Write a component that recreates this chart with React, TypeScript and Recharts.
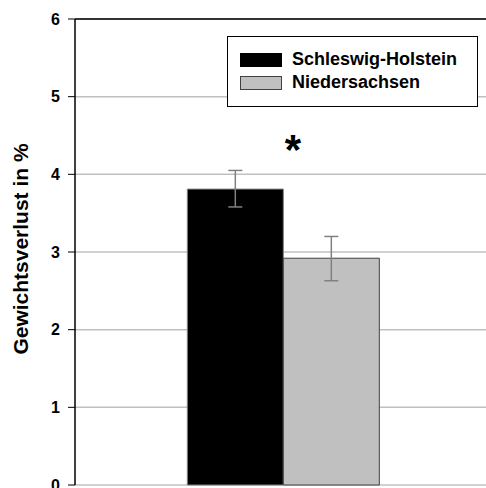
import {
  BarChart,
  Bar,
  XAxis,
  YAxis,
  CartesianGrid,
  ErrorBar,
  Legend,
  ReferenceLine,
  ReferenceDot,
} from 'recharts'

const categories = ['Gewichtsverlust']
const regions = ['Schleswig-Holstein', 'Niedersachsen']
const means = [3.81, 2.92]
const errLow = [0.23, 0.29]
const errHigh = [0.24, 0.28]
const yTicks = [0, 1, 2, 3, 4, 5, 6]

const COLORS = ['#000000', '#c0c0c0']
const BORDERS = ['#808080', '#404040']
const FONT = '"Liberation Sans", Arial, sans-serif'

const data = categories.map((name) => ({
  name,
  sh: means[0],
  ni: means[1],
  shErr: [errLow[0], errHigh[0]],
  niErr: [errLow[1], errHigh[1]],
}))

function LegendBox() {
  return (
    <div
      style={{
        width: 251,
        height: 71,
        boxSizing: 'border-box',
        border: '1px solid #000',
        background: '#fff',
        paddingTop: 11,
        fontFamily: FONT,
        fontWeight: 'bold',
        fontSize: 18,
        color: '#000',
      }}
    >
      {regions.map((r, i) => (
        <div key={r} style={{ display: 'flex', alignItems: 'center', height: 23 }}>
          <div
            style={{
              marginLeft: 12,
              width: 42,
              height: 14,
              boxSizing: 'border-box',
              background: COLORS[i],
              border: `1px solid ${i === 0 ? '#000' : '#404040'}`,
            }}
          />
          <span style={{ marginLeft: 10, lineHeight: '23px' }}>{r}</span>
        </div>
      ))}
    </div>
  )
}

function YLabel() {
  return (
    <text
      x={28}
      y={249}
      transform="rotate(-90 28 249)"
      textAnchor="middle"
      fontFamily={FONT}
      fontWeight="bold"
      fontSize={21}
      fill="#000"
    >
      Gewichtsverlust in %
    </text>
  )
}

export default function App() {
  return (
    <div style={{ position: 'absolute', left: 0, top: 0, width: 486, height: 488, overflow: 'hidden' }}>
      <BarChart
        width={486}
        height={488}
        data={data}
        margin={{ top: 19, right: -5, bottom: 3, left: 0 }}
        barCategoryGap="27%"
        barGap={0}
        style={{ overflow: 'hidden' }}
      >
        <CartesianGrid vertical={false} stroke="#c0c0c0" strokeWidth={1.5} />
        <XAxis
          dataKey="name"
          height={0}
          tickSize={4}
          tickFormatter={() => ''}
          axisLine={{ stroke: '#000', strokeWidth: 2 }}
          tickLine={{ stroke: '#000' }}
        />
        <YAxis
          width={75}
          domain={[0, 6]}
          ticks={yTicks}
          interval={0}
          tickSize={7}
          tickMargin={8}
          axisLine={{ stroke: '#000', strokeWidth: 1.5 }}
          tickLine={{ stroke: '#000' }}
          tick={{ fill: '#000', fontFamily: FONT, fontWeight: 'bold', fontSize: 16 }}
          label={<YLabel />}
        />
        <ReferenceLine y={6} stroke="#000" strokeWidth={1.5} />
        <Bar dataKey="sh" name={regions[0]} fill={COLORS[0]} stroke={BORDERS[0]} isAnimationActive={false}>
          <ErrorBar dataKey="shErr" stroke="#808080" strokeWidth={1.5} width={7} />
        </Bar>
        <Bar dataKey="ni" name={regions[1]} fill={COLORS[1]} stroke={BORDERS[1]} isAnimationActive={false}>
          <ErrorBar dataKey="niErr" stroke="#808080" strokeWidth={1.5} width={7} />
        </Bar>
        <ReferenceDot
          x={categories[0]}
          y={4.32}
          r={0}
          fill="none"
          stroke="none"
          label={{
            value: '*',
            position: 'center',
            dx: 10,
            fontSize: 42,
            fontWeight: 'bold',
            fontFamily: FONT,
            fill: '#000',
          }}
        />
        <Legend
          layout="horizontal"
          align="center"
          verticalAlign="middle"
          wrapperStyle={{ left: 227, top: 36, width: 251, height: 71 }}
          content={() => <LegendBox />}
        />
      </BarChart>
    </div>
  )
}
